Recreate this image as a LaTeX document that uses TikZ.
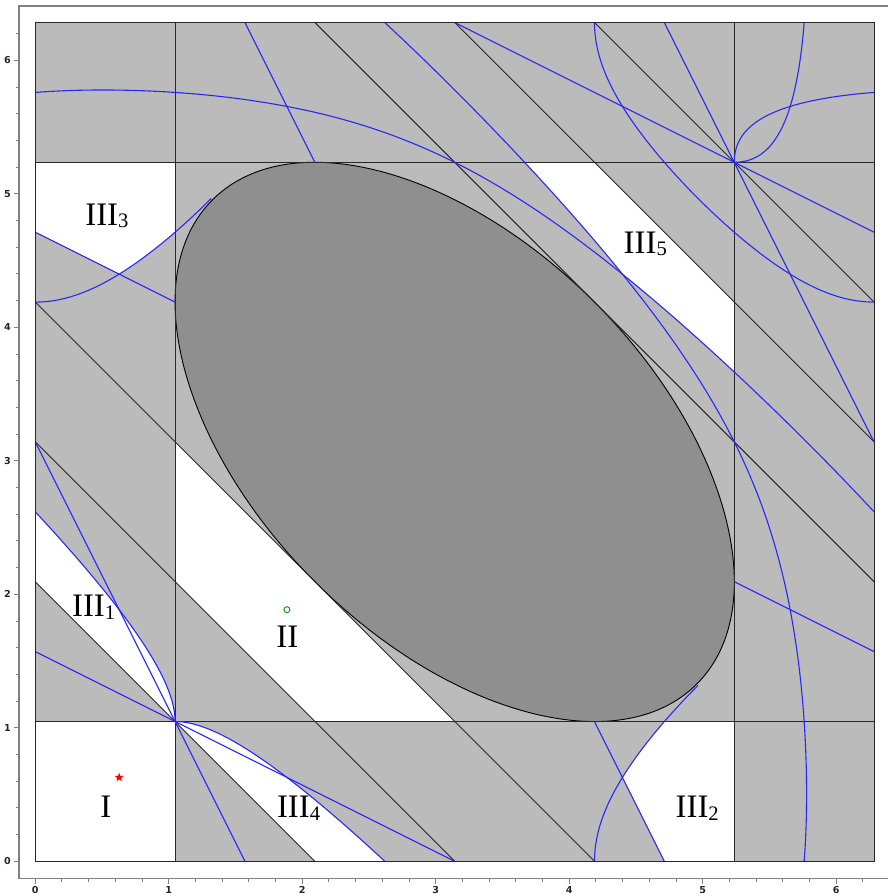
\documentclass[tikz,border=0pt]{standalone}
\usepackage{fontspec}
\setmainfont{Liberation Serif}
\newfontfamily\tickfont{DejaVu Sans}
\usetikzlibrary{shapes.geometric}
\definecolor{lgray}{RGB}{187,187,187}
\definecolor{dgray}{RGB}{143,143,143}
\definecolor{cblue}{RGB}{40,40,250}
\definecolor{kline}{RGB}{40,40,40}
\definecolor{axgray}{RGB}{128,128,128}
\definecolor{mgreen}{RGB}{40,150,40}
\newcommand\mysub[1]{\raisebox{-1.2pt}{\fontsize{10.3pt}{11pt}\selectfont #1}}
\begin{document}
\begin{tikzpicture}[x=66.75pt,y=66.75pt,
  declare function={
    cq(\t)=1/(4*sin(deg(\t/2)));
    xq(\t)=-\t+2*rad(acos(cq(\t)));
    tu(\s)=2*pi-2*rad(asin(1/(4*cos(deg(\s)))));
    ca(\a)=2*pi-rad(acos(0.5-cos(deg(\a))));
    cb(\a)=rad(acos(0.5-cos(deg(\a))));
  },
  bl/.style={cblue, line width=0.55pt},
  kl/.style={kline, line width=0.45pt},
  axis/.style={axgray, line width=0.7pt},
  lab/.style={font=\fontsize{16.4pt}{18pt}\selectfont, inner sep=0pt, anchor=base west},
  ticklab/.style={font=\tickfont\bfseries\fontsize{4.8pt}{5pt}\selectfont, inner sep=0pt, text=black!85},
]
\useasboundingbox (-0.2644,-0.26) rectangle (6.387,6.452);
\fill[white] (-0.2644,-0.26) rectangle (6.387,6.452);

% axes frame
\draw[axis] (6.387,6.407) -- (-0.122,6.407) -- (-0.122,-0.130) -- (6.387,-0.130);
\foreach \v in {0,0.2,...,6.21} {
  \draw[axis, line width=0.5pt] (-0.122,\v) -- ++(-0.022,0);
  \draw[axis, line width=0.5pt] (\v,-0.130) -- ++(0,-0.022);
}
\foreach \v in {0,...,6} {
  \draw[axis, line width=0.5pt] (-0.122,\v) -- ++(-0.038,0);
  \draw[axis, line width=0.5pt] (\v,-0.130) -- ++(0,-0.038);
  \node[ticklab, anchor=east] (ly\v) at (-0.18,\v) {\v};
  \node[ticklab] (lx\v) at (\v,-0.215) {\v};
}

% background and white regions
\fill[lgray] (0,0) rectangle (6.283185,6.283185);
\fill[white] (0,0) rectangle (1.047198,1.047198);
\fill[white] (1.047198,2.094395) -- (1.047198,3.141593) -- (3.141593,1.047198) -- (2.094395,1.047198) -- cycle;
\fill[white] (0,2.094395) -- (1.047198,1.047198) -- plot[domain=1.047198:2.617994, samples=60, variable=\t] ({xq(\t)},{\t}) -- cycle;
\fill[white] (2.094395,0) -- (1.047198,1.047198) -- plot[domain=1.047198:2.617994, samples=60, variable=\t] ({\t},{xq(\t)}) -- cycle;
\fill[white] (0,5.235988) -- (0,4.712389) -- (0.628319,4.398230) -- plot[domain=0.628319:1.047198, samples=30, variable=\a] ({\a},{ca(\a)}) -- (1.047198,5.235988) -- cycle;
\fill[white] (5.235988,0) -- (4.712389,0) -- (4.398230,0.628319) -- plot[domain=0.628319:1.047198, samples=30, variable=\a] ({ca(\a)},{\a}) -- (5.235988,1.047198) -- cycle;
\fill[white] (3.665191,5.235988) -- (4.188790,5.235988) -- (5.235988,4.188790) -- (5.235988,3.665191)
  -- plot[domain=3.665191:4.398230, samples=40, variable=\t] ({xq(\t)+2*pi},{\t})
  -- plot[domain=4.398230:3.665191, samples=40, variable=\t] ({\t},{xq(\t)+2*pi}) -- cycle;

% forbidden region
\filldraw[fill=dgray, draw=black, line width=0.45pt, rotate around={-45:(3.141593,3.141593)}] (3.141593,3.141593) ellipse [x radius=2.5651, y radius=1.4810];

% black lines
\draw[kl] (1.047198,0) -- (1.047198,6.283185);
\draw[kl] (5.235988,0) -- (5.235988,6.283185);
\draw[kl] (0,1.047198) -- (6.283185,1.047198);
\draw[kl] (0,5.235988) -- (6.283185,5.235988);
\draw[kl] (0,2.094395) -- (2.094395,0);
\draw[kl] (0,3.141593) -- (3.141593,0);
\draw[kl] (0,4.188790) -- (4.188790,0);
\draw[kl] (2.094395,6.283185) -- (6.283185,2.094395);
\draw[kl] (3.141593,6.283185) -- (6.283185,3.141593);
\draw[kl] (4.188790,6.283185) -- (6.283185,4.188790);

% blue curves
\begin{scope}
\clip (0,0) rectangle (6.283185,6.283185);
\draw[bl] (0,3.141593) -- (1.570796,0);
\draw[bl] (0,1.570796) -- (3.141593,0);
\draw[bl] (1.570796,6.283185) -- (2.094395,5.235988);
\draw[bl] (4.188790,1.047198) -- (4.712389,0);
\draw[bl] (6.283185,1.570796) -- (5.235988,2.094395);
\draw[bl] (1.047198,4.188790) -- (0,4.712389);
\draw[bl] (4.712389,6.283185) -- (6.283185,3.141593);
\draw[bl] (3.141593,6.283185) -- (6.283185,4.712389);
% cos x + cos y = 1/2
\draw[bl] plot[domain=0:1.3181, samples=50, variable=\a] ({2*pi-\a},{ca(\a)})
  -- plot[domain=1.3181:0, samples=50, variable=\a] ({ca(\a)},{2*pi-\a});
\draw[bl] plot[domain=0:1.3181, samples=50, variable=\a] ({\a},{ca(\a)});
\draw[bl] plot[domain=0:1.3181, samples=50, variable=\a] ({ca(\a)},{\a});
% P4 on diagonal P1P3
\draw[bl] plot[domain=1.047198:2.617994, samples=60, variable=\t] ({xq(\t)},{\t});
\draw[bl] plot[domain=2.617994:5.7054, samples=140, variable=\t] ({xq(\t)+2*pi},{\t})
  -- plot[domain=0.5:-0.261799, samples=40, variable=\s] ({2*pi-tu(\s)+2*\s},{tu(\s)});
\draw[bl] plot[domain=-0.261799:-1.047198, samples=40, variable=\s] ({4*pi-tu(\s)+2*\s},{tu(\s)});
% P4 on diagonal P0P2 (mirror)
\draw[bl] plot[domain=1.047198:2.617994, samples=60, variable=\t] ({\t},{xq(\t)});
\draw[bl] plot[domain=2.617994:5.7054, samples=140, variable=\t] ({\t},{xq(\t)+2*pi})
  -- plot[domain=0.5:-0.261799, samples=40, variable=\s] ({tu(\s)},{2*pi-tu(\s)+2*\s});
\draw[bl] plot[domain=-0.261799:-1.047198, samples=40, variable=\s] ({tu(\s)},{4*pi-tu(\s)+2*\s});
\end{scope}

\draw[kl] (0,0) rectangle (6.283185,6.283185);

% markers
\node[star, star points=5, star point ratio=2.3, fill=red, inner sep=0pt, minimum size=4.6pt] (pentagram) at (0.628319,0.628319) {};
\node[circle, draw=mgreen, line width=0.5pt, inner sep=0pt, minimum size=3pt] (pentagon) at (1.884956,1.884956) {};

% labels
\node[lab] (lI) at (0.485,0.3266) {I};
\node[lab] (lII) at (1.803,1.600) {II};
\node[lab] (lIIIa) at (0.2727,1.832) {III\mysub{1}};
\node[lab] (lIIIb) at (4.794,0.3266) {III\mysub{2}};
\node[lab] (lIIIc) at (0.372,4.766) {III\mysub{3}};
\node[lab] (lIIId) at (1.808,0.3266) {III\mysub{4}};
\node[lab] (lIIIe) at (4.405,4.554) {III\mysub{5}};
\end{tikzpicture}
\end{document}
